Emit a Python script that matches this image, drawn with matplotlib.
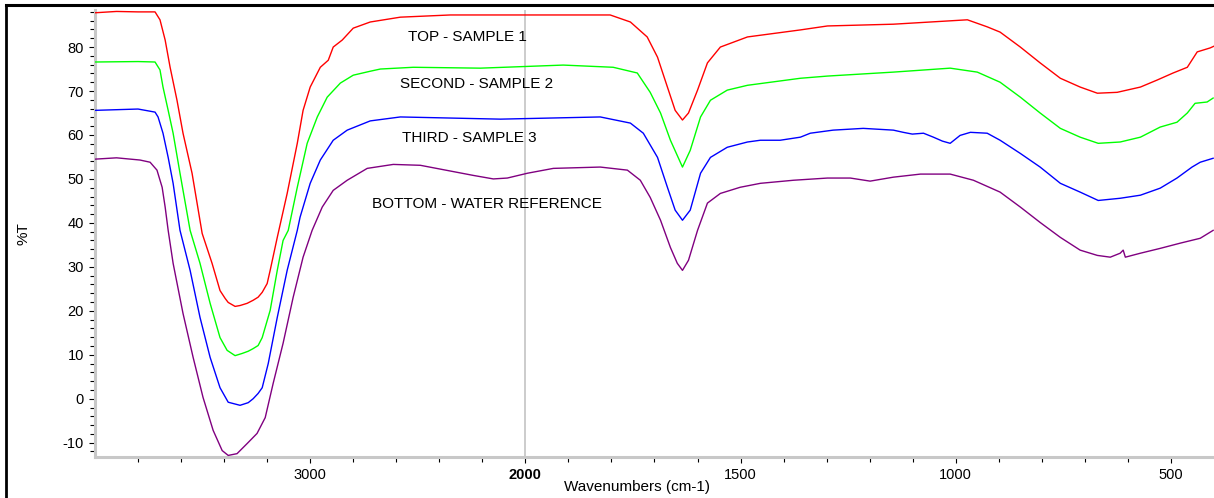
import numpy as np
import matplotlib
matplotlib.use('Agg')
import matplotlib.pyplot as plt
from matplotlib.lines import Line2D
from matplotlib.ticker import FixedLocator

plt.rcParams['font.family'] = ['Liberation Sans', 'DejaVu Sans']
plt.rcParams['axes.unicode_minus'] = False

# spectra: wavenumber (cm-1) and %T
wn_top = [4000, 3900, 3800, 3721, 3698, 3674, 3651, 3619, 3591, 3549, 3502, 3456, 3419, 3395, 3381, 3349,
          3326, 3293, 3265, 3242, 3223, 3200, 3186, 3153, 3107, 3060, 3033, 3000, 2953, 2916, 2893, 2851,
          2800, 2721, 2581, 2349, 1919, 1803, 1756, 1717, 1693, 1670, 1652, 1635, 1621, 1600, 1577, 1547,
          1484, 1361, 1298, 1145, 973, 927, 897, 850, 804, 757, 711, 671, 625, 571, 532, 495, 462, 439,
          409, 400]
t_top = [87.8, 88.1, 88.0, 88.0, 86.2, 81.6, 75.4, 67.9, 60.4, 51.3, 37.6, 30.8, 24.6, 22.8, 21.9, 21.0,
         21.2, 21.7, 22.4, 23.1, 24.2, 26.2, 29.2, 36.7, 46.7, 58.1, 65.6, 70.9, 75.4, 77.0, 80.0, 81.6,
         84.3, 85.7, 86.8, 87.3, 87.3, 87.3, 85.7, 82.3, 77.7, 70.9, 65.6, 63.4, 65.0, 70.2, 76.4, 80.0,
         82.3, 83.9, 84.8, 85.2, 86.2, 84.6, 83.4, 80.0, 76.4, 72.9, 70.9, 69.5, 69.7, 70.9, 72.5, 74.1,
         75.4, 78.9, 79.8, 80.2]

wn_second = [4000, 3800, 3721, 3698, 3684, 3660, 3637, 3605, 3558, 3512, 3465, 3419, 3386, 3349, 3316, 3288,
             3265, 3242, 3223, 3186, 3153, 3126, 3102, 3060, 3014, 2967, 2921, 2860, 2800, 2721, 2674, 2521,
             2209, 1912, 1796, 1740, 1710, 1686, 1663, 1635, 1617, 1593, 1570, 1531, 1484, 1361, 1298, 1145,
             1013, 950, 897, 850, 804, 757, 711, 669, 618, 571, 525, 486, 462, 444, 416, 402]
t_second = [76.6, 76.7, 76.6, 74.8, 70.9, 65.6, 60.4, 51.3, 38.3, 30.8, 21.7, 13.9, 11.0, 9.8, 10.3, 10.8,
            11.4, 12.1, 13.9, 20.1, 29.2, 36.0, 38.3, 48.1, 58.1, 64.1, 68.6, 71.8, 73.6, 74.5, 75.0, 75.4,
            75.2, 75.9, 75.4, 74.1, 69.7, 65.0, 58.8, 52.7, 56.5, 64.1, 67.9, 70.2, 71.3, 72.9, 73.4, 74.3,
            75.2, 74.3, 72.0, 68.6, 65.0, 61.5, 59.5, 58.1, 58.4, 59.5, 61.8, 62.9, 65.0, 67.2, 67.5, 68.4]

wn_third = [4000, 3800, 3721, 3707, 3684, 3660, 3637, 3605, 3558, 3512, 3465, 3419, 3381, 3326, 3288, 3265,
            3242, 3223, 3195, 3153, 3107, 3060, 3047, 3000, 2953, 2893, 2828, 2721, 2581, 2116, 1826, 1756,
            1726, 1693, 1670, 1652, 1635, 1617, 1593, 1570, 1531, 1484, 1454, 1408, 1361, 1338, 1285, 1215,
            1145, 1122, 1101, 1075, 1052, 1031, 1013, 990, 966, 927, 897, 850, 804, 757, 711, 669, 618, 571,
            525, 486, 451, 432, 402]
t_third = [65.6, 65.9, 65.2, 64.1, 60.4, 54.9, 49.0, 38.3, 29.2, 18.5, 9.4, 2.5, -0.8, -1.5, -0.9, 0.0,
           1.2, 2.5, 8.0, 18.5, 29.2, 38.3, 41.3, 49.0, 54.3, 58.8, 61.1, 63.2, 64.1, 63.6, 64.1, 62.7,
           60.4, 54.9, 48.1, 42.9, 40.6, 42.9, 51.3, 54.9, 57.2, 58.4, 58.8, 58.8, 59.5, 60.4, 61.1, 61.5,
           61.1, 60.6, 60.2, 60.4, 59.5, 58.6, 58.1, 59.9, 60.6, 60.4, 58.8, 55.8, 52.7, 49.0, 47.0, 45.1,
           45.6, 46.3, 47.9, 50.2, 52.7, 53.8, 54.7]

wn_bottom = [4000, 3900, 3791, 3744, 3712, 3688, 3674, 3660, 3637, 3591, 3544, 3498, 3451, 3409, 3381, 3340,
             3293, 3247, 3209, 3172, 3126, 3079, 3033, 2991, 2944, 2893, 2828, 2735, 2614, 2488, 2349, 2242,
             2149, 2084, 1995, 1935, 1826, 1763, 1733, 1710, 1686, 1663, 1647, 1635, 1621, 1600, 1577, 1547,
             1501, 1454, 1377, 1298, 1245, 1199, 1145, 1082, 1013, 959, 897, 850, 804, 757, 711, 671, 641,
             618, 611, 606, 571, 525, 478, 432, 402]
t_bottom = [54.5, 54.8, 54.3, 53.8, 52.0, 48.1, 43.6, 38.3, 30.8, 19.4, 9.4, 0.3, -7.2, -11.8, -12.9, -12.5,
            -10.2, -7.9, -4.3, 3.5, 12.6, 23.1, 32.2, 38.3, 43.6, 47.4, 49.7, 52.4, 53.3, 53.1, 51.8, 50.8,
            50.0, 50.2, 51.3, 52.4, 52.7, 52.0, 49.7, 45.8, 40.6, 34.4, 30.8, 29.2, 31.5, 38.3, 44.5, 46.7,
            48.1, 49.0, 49.7, 50.2, 50.2, 49.5, 50.4, 51.1, 51.1, 49.7, 47.0, 43.6, 40.1, 36.7, 33.8, 32.6, 32.2,
            33.1, 33.8, 32.2, 33.1, 34.2, 35.4, 36.5, 38.3]

names = ['TOP - SAMPLE 1', 'SECOND - SAMPLE 2', 'THIRD - SAMPLE 3', 'BOTTOM - WATER REFERENCE']
xticks_major = [3000, 2000, 1500, 1000, 500]
yticks_major = [-10, 0, 10, 20, 30, 40, 50, 60, 70, 80]


# axis is compressed 2x above 2000 cm-1
def fwd(x):
    x = np.asarray(x, dtype=float)
    return np.where(x <= 2000, x, 2000 + (x - 2000) / 2.0)


def inv(y):
    y = np.asarray(y, dtype=float)
    return np.where(y <= 2000, y, 2000 + (y - 2000) * 2.0)


fig = plt.figure(figsize=(12.14, 4.98), dpi=100)
ax = fig.add_axes([95 / 1214, 41 / 498, 1119 / 1214, 447 / 498])
ax.set_xscale('function', functions=(fwd, inv))

colors = ['#ff0000', '#00ff00', '#0000ff', '#800080']
series = [(wn_top, t_top), (wn_second, t_second), (wn_third, t_third), (wn_bottom, t_bottom)]
for (w, t), c in zip(series, colors):
    ax.plot(w, t, color=c, lw=1.0, zorder=3)

ax.axvline(2000, color='#c8c8c8', lw=1.3, zorder=1)

label_pos = [(2544, 82.3), (2581, 71.6), (2572, 59.3), (2712, 44.2)]
for s, (lx, ly) in zip(names, label_pos):
    ax.text(lx, ly, s, fontsize=11, ha='left', va='center', color='black', zorder=4)

ax.set_xlim(4000, 400)
ax.set_ylim(-13.26, 88.43)

minor_x = [3800, 3600, 3400, 3200, 2800, 2600, 2400, 2200] + [v for v in range(1900, 400, -100) if v % 500 != 0]
ax.xaxis.set_major_locator(FixedLocator(xticks_major))
ax.xaxis.set_minor_locator(FixedLocator(minor_x))
ax.set_xticklabels([str(v) for v in xticks_major])
ax.set_yticks(yticks_major)
ax.yaxis.set_minor_locator(FixedLocator([v for v in range(-12, 89, 2) if v % 10 != 0]))
for lab in ax.get_xticklabels():
    if lab.get_text() == '2000':
        lab.set_fontweight('bold')

for side in ['top', 'right']:
    ax.spines[side].set_visible(False)
for side in ['left', 'bottom']:
    ax.spines[side].set_color('#c8c8c8')
    ax.spines[side].set_linewidth(2.2)

ax.tick_params(which='both', direction='out', color='black', width=0.8, labelsize=10.5, pad=4)
ax.tick_params(which='major', length=4)
ax.tick_params(which='minor', length=3.5)

ax.set_xlabel('Wavenumbers (cm-1)', fontsize=11)
ax.xaxis.set_label_coords(0.4844, -0.052)
ax.set_ylabel('%T', fontsize=11)
ax.yaxis.set_label_coords(-0.058, 0.50)

# black frame along the top and left edges
fig.add_artist(Line2D([6 / 1214, 1], [1 - 5 / 498, 1 - 5 / 498], color='black', lw=2.2,
                      transform=fig.transFigure))
fig.add_artist(Line2D([6 / 1214, 6 / 1214], [0, 1 - 5 / 498], color='black', lw=2.0,
                      transform=fig.transFigure))

fig.savefig('out.png', dpi=100)
